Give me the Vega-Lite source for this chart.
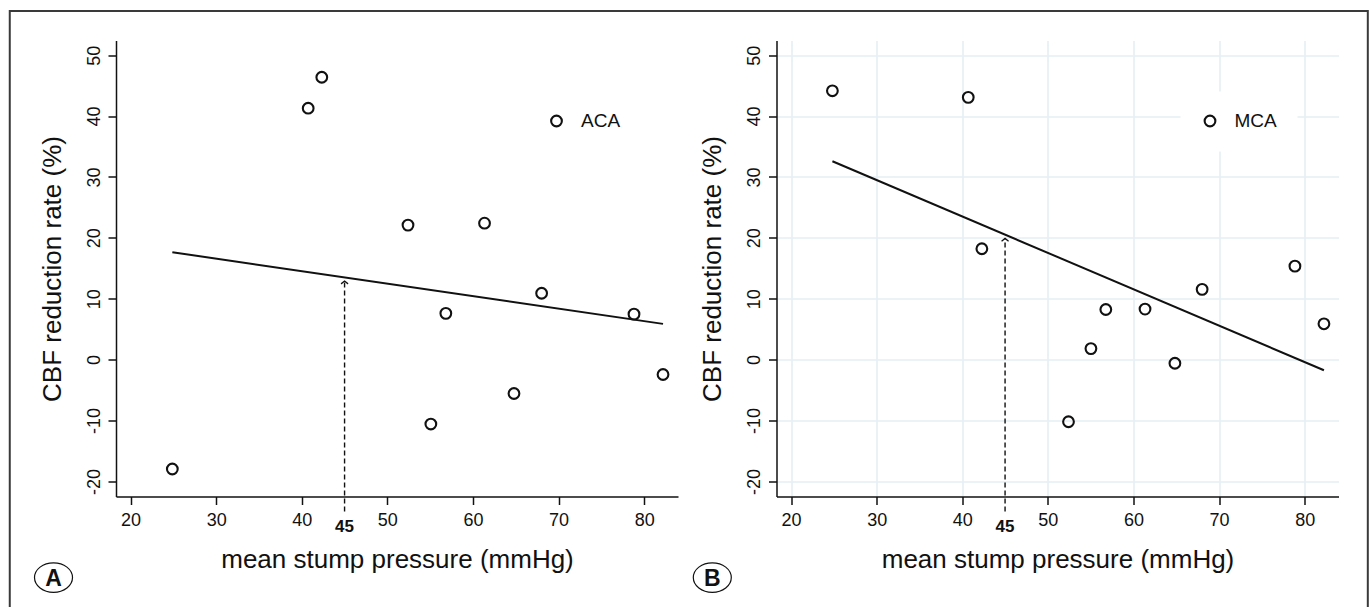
{
  "$schema": "https://vega.github.io/schema/vega-lite/v6.json",
  "padding": {"left": 8, "top": 9.5, "right": 0, "bottom": 0},
  "background": "white",
  "bounds": "flush",
  "spacing": 98.5,
  "resolve": {"scale": {"color": "independent"}, "legend": {"color": "independent"}},
  "config": {
    "font": "Liberation Sans",
    "view": {"stroke": null},
    "axis": {
      "domainColor": "#111", "domainWidth": 1.5,
      "tickColor": "#111", "tickWidth": 1.5, "tickSize": 8,
      "gridColor": "#e6eff3", "gridWidth": 1.6,
      "labelColor": "#111", "labelFontSize": 18, "labelFont": "Liberation Sans",
      "titleColor": "#111", "titleFontSize": 26, "titleFontWeight": "normal", "titleFont": "Liberation Sans"
    },
    "legend": {"labelFont": "Liberation Sans"}
  },
  "datasets": {
    "ptsA": [
      {"x": 24.88, "y": -17.96, "region": "ACA"},
      {"x": 40.75, "y": 41.29, "region": "ACA"},
      {"x": 42.34, "y": 46.38, "region": "ACA"},
      {"x": 52.41, "y": 22.09, "region": "ACA"},
      {"x": 55.08, "y": -10.58, "region": "ACA"},
      {"x": 56.83, "y": 7.6, "region": "ACA"},
      {"x": 61.35, "y": 22.41, "region": "ACA"},
      {"x": 64.79, "y": -5.56, "region": "ACA"},
      {"x": 68.02, "y": 10.9, "region": "ACA"},
      {"x": 78.81, "y": 7.47, "region": "ACA"},
      {"x": 82.2, "y": -2.45, "region": "ACA"}
    ],
    "fitA": [{"x": 24.88, "y": 17.64}, {"x": 82.2, "y": 5.87}],
    "arrowA": [{"x": 45, "y0": -24.94, "y1": 12.9, "label": "45"}],
    "ptsB": [
      {"x": 24.83, "y": 44.15, "region": "MCA"},
      {"x": 40.7, "y": 43.07, "region": "MCA"},
      {"x": 42.29, "y": 18.21, "region": "MCA"},
      {"x": 52.41, "y": -10.2, "region": "MCA"},
      {"x": 55.03, "y": 1.81, "region": "MCA"},
      {"x": 56.77, "y": 8.23, "region": "MCA"},
      {"x": 61.35, "y": 8.3, "region": "MCA"},
      {"x": 64.84, "y": -0.6, "region": "MCA"},
      {"x": 68.02, "y": 11.54, "region": "MCA"},
      {"x": 78.86, "y": 15.35, "region": "MCA"},
      {"x": 82.25, "y": 5.88, "region": "MCA"}
    ],
    "fitB": [{"x": 24.83, "y": 32.58}, {"x": 82.25, "y": -1.75}],
    "arrowB": [{"x": 45, "y0": -24.94, "y1": 19.9, "label": "45"}],
    "one": [{}]
  },
  "hconcat": [
    {
      "width": 562, "height": 456,
      "layer": [
        {
          "data": {"name": "one"},
          "mark": {"type": "rect", "fill": "transparent", "stroke": "#3a3a3a", "strokeWidth": 2, "clip": false},
          "encoding": {
            "x": {"datum": 5.89, "type": "quantitative", "scale": {"domain": [18.3, 83.95]}},
            "x2": {"datum": 164.53},
            "y": {"datum": 57.24, "type": "quantitative", "scale": {"domain": [-22.48, 52.41]}},
            "y2": {"datum": -48}
          }
        },
        {
          "data": {"name": "ptsA"},
          "mark": {"type": "point", "filled": false, "size": 115, "strokeWidth": 2.1, "opacity": 1},
          "encoding": {
            "x": {"field": "x", "type": "quantitative", "scale": {"domain": [18.3, 83.95], "nice": false, "zero": false},
              "axis": {"values": [20, 30, 40, 50, 60, 70, 80], "title": "mean stump pressure (mmHg)", "labelPadding": 7, "titlePadding": 17, "labelFlush": false}},
            "y": {"field": "y", "type": "quantitative", "scale": {"domain": [-22.48, 52.41], "nice": false, "zero": false},
              "axis": {"values": [-20, -10, 0, 10, 20, 30, 40, 50], "title": "CBF reduction rate (%)", "labelAngle": -90, "labelAlign": "center", "labelBaseline": "bottom", "labelPadding": 5, "titlePadding": 20, "labelExpr": "'' + datum.value", "labelFlush": false}},
            "color": {"field": "region", "type": "nominal", "scale": {"range": ["#111"]},
              "legend": {"orient": "none", "legendX": 411, "legendY": 51, "padding": 20, "fillColor": "white", "title": null, "labelFontSize": 19, "labelColor": "#111", "symbolSize": 115, "symbolStrokeWidth": 2.1, "labelOffset": 15, "symbolType": "circle"}}
          }
        },
        {
          "data": {"name": "fitA"},
          "mark": {"type": "line", "color": "#111", "strokeWidth": 2},
          "encoding": {
            "x": {"field": "x", "type": "quantitative"},
            "y": {"field": "y", "type": "quantitative"}
          }
        },
        {
          "data": {"name": "arrowA"},
          "mark": {"type": "rule", "color": "#111", "strokeWidth": 1.4, "strokeDash": [5, 3], "clip": false},
          "encoding": {
            "x": {"field": "x", "type": "quantitative"},
            "y": {"field": "y0", "type": "quantitative"},
            "y2": {"field": "y1"}
          }
        },
        {
          "data": {"name": "arrowA"},
          "mark": {"type": "point", "shape": "M-1,0.8L0,0L1,0.8", "size": 49, "filled": false, "color": "#111", "strokeWidth": 1.3, "opacity": 1},
          "encoding": {
            "x": {"field": "x", "type": "quantitative"},
            "y": {"field": "y1", "type": "quantitative"}
          }
        },
        {
          "data": {"name": "arrowA"},
          "mark": {"type": "text", "fontWeight": "bold", "fontSize": 17, "baseline": "middle", "align": "center", "dy": 16, "color": "#111", "clip": false},
          "encoding": {
            "x": {"field": "x", "type": "quantitative"},
            "y": {"field": "y0", "type": "quantitative"},
            "text": {"field": "label"}
          }
        },
        {
          "data": {"name": "one"},
          "mark": {"type": "point", "shape": "M-1,0A1,0.78,0,1,1,1,0A1,0.78,0,1,1,-1,0Z", "size": 1444, "filled": false, "color": "#111", "strokeWidth": 1.2, "opacity": 1, "clip": false},
          "encoding": {
            "x": {"datum": 11.0, "type": "quantitative"},
            "y": {"datum": -35.8, "type": "quantitative"}
          }
        },
        {
          "data": {"name": "one"},
          "mark": {"type": "text", "text": "A", "fontWeight": "bold", "fontSize": 23, "baseline": "middle", "align": "center", "dy": 1, "color": "#111", "clip": false},
          "encoding": {
            "x": {"datum": 11.0, "type": "quantitative"},
            "y": {"datum": -35.8, "type": "quantitative"}
          }
        }
      ]
    },
    {
      "width": 562, "height": 456,
      "layer": [
        {
          "data": {"name": "ptsB"},
          "mark": {"type": "point", "filled": false, "size": 115, "strokeWidth": 2.1, "opacity": 1},
          "encoding": {
            "x": {"field": "x", "type": "quantitative", "scale": {"domain": [18.3, 83.95], "nice": false, "zero": false},
              "axis": {"values": [20, 30, 40, 50, 60, 70, 80], "title": "mean stump pressure (mmHg)", "labelPadding": 7, "titlePadding": 17, "labelFlush": false}},
            "y": {"field": "y", "type": "quantitative", "scale": {"domain": [-22.48, 52.41], "nice": false, "zero": false},
              "axis": {"values": [-20, -10, 0, 10, 20, 30, 40, 50], "title": "CBF reduction rate (%)", "labelAngle": -90, "labelAlign": "center", "labelBaseline": "bottom", "labelPadding": 5, "titlePadding": 20, "labelExpr": "'' + datum.value", "labelFlush": false}},
            "color": {"field": "region", "type": "nominal", "scale": {"range": ["#111"]},
              "legend": {"orient": "none", "legendX": 404, "legendY": 51, "padding": 20, "fillColor": "white", "title": null, "labelFontSize": 19, "labelColor": "#111", "symbolSize": 115, "symbolStrokeWidth": 2.1, "labelOffset": 15, "symbolType": "circle"}}
          }
        },
        {
          "data": {"name": "fitB"},
          "mark": {"type": "line", "color": "#111", "strokeWidth": 2},
          "encoding": {
            "x": {"field": "x", "type": "quantitative"},
            "y": {"field": "y", "type": "quantitative"}
          }
        },
        {
          "data": {"name": "arrowB"},
          "mark": {"type": "rule", "color": "#111", "strokeWidth": 1.4, "strokeDash": [5, 3], "clip": false},
          "encoding": {
            "x": {"field": "x", "type": "quantitative"},
            "y": {"field": "y0", "type": "quantitative"},
            "y2": {"field": "y1"}
          }
        },
        {
          "data": {"name": "arrowB"},
          "mark": {"type": "point", "shape": "M-1,0.8L0,0L1,0.8", "size": 49, "filled": false, "color": "#111", "strokeWidth": 1.3, "opacity": 1},
          "encoding": {
            "x": {"field": "x", "type": "quantitative"},
            "y": {"field": "y1", "type": "quantitative"}
          }
        },
        {
          "data": {"name": "arrowB"},
          "mark": {"type": "text", "fontWeight": "bold", "fontSize": 17, "baseline": "middle", "align": "center", "dy": 16, "color": "#111", "clip": false},
          "encoding": {
            "x": {"field": "x", "type": "quantitative"},
            "y": {"field": "y0", "type": "quantitative"},
            "text": {"field": "label"}
          }
        },
        {
          "data": {"name": "one"},
          "mark": {"type": "point", "shape": "M-1,0A1,0.78,0,1,1,1,0A1,0.78,0,1,1,-1,0Z", "size": 1444, "filled": false, "color": "#111", "strokeWidth": 1.2, "opacity": 1, "clip": false},
          "encoding": {
            "x": {"datum": 10.8, "type": "quantitative"},
            "y": {"datum": -35.8, "type": "quantitative"}
          }
        },
        {
          "data": {"name": "one"},
          "mark": {"type": "text", "text": "B", "fontWeight": "bold", "fontSize": 23, "baseline": "middle", "align": "center", "dy": 1, "color": "#111", "clip": false},
          "encoding": {
            "x": {"datum": 10.8, "type": "quantitative"},
            "y": {"datum": -35.8, "type": "quantitative"}
          }
        }
      ]
    }
  ]
}
